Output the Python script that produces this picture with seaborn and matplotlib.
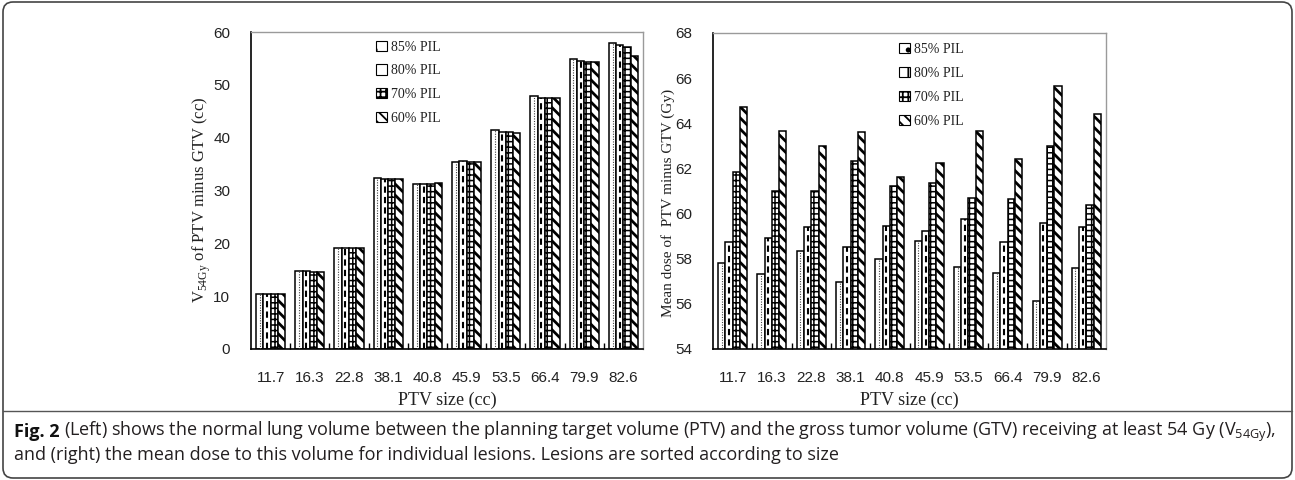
import numpy as np
import pandas as pd
import matplotlib
matplotlib.use("Agg")
import matplotlib.pyplot as plt
import matplotlib.patches as mpatches
from matplotlib.patches import FancyBboxPatch
from matplotlib.lines import Line2D
import seaborn as sns

# ---------------- data ----------------
ptv_sizes = ["11.7", "16.3", "22.8", "38.1", "40.8", "45.9", "53.5", "66.4", "79.9", "82.6"]
pil_levels = ["85% PIL", "80% PIL", "70% PIL", "60% PIL"]

# V54Gy of PTV minus GTV (cc)
v54_85 = [10.4, 14.7, 19.2, 32.3, 31.3, 35.3, 41.4, 47.9, 54.8, 58.0]
v54_80 = [10.4, 14.7, 19.2, 32.1, 31.3, 35.5, 41.0, 47.5, 54.6, 57.6]
v54_70 = [10.4, 14.5, 19.2, 32.1, 31.3, 35.3, 41.0, 47.5, 54.4, 57.1]
v54_60 = [10.4, 14.5, 19.2, 32.1, 31.5, 35.3, 40.8, 47.5, 54.4, 55.4]

# Mean dose of PTV minus GTV (Gy)
dose_85 = [57.80, 57.31, 58.35, 56.95, 57.98, 58.79, 57.65, 57.35, 56.11, 57.59]
dose_80 = [58.75, 58.90, 59.40, 58.54, 59.43, 59.24, 59.76, 58.75, 59.58, 59.40]
dose_70 = [61.83, 60.99, 60.99, 62.35, 61.20, 61.34, 60.69, 60.65, 62.99, 60.39]
dose_60 = [64.73, 63.67, 62.98, 63.61, 61.64, 62.25, 63.64, 62.40, 65.65, 64.43]

left_yticks = [0, 10, 20, 30, 40, 50, 60]
right_yticks = [54, 56, 58, 60, 62, 64, 66, 68]

caption_bold = "Fig. 2"
caption_line1 = (r"(Left) shows the normal lung volume between the planning target "
                 r"volume (PTV) and the gross tumor volume (GTV) receiving at least 54 Gy (V$_{\mathregular{54Gy}}$),")
caption_line2 = ("and (right) the mean dose to this volume for individual lesions. "
                 "Lesions are sorted according to size")


def long_df(series):
    rows = []
    for lvl, vals in zip(pil_levels, series):
        for s, v in zip(ptv_sizes, vals):
            rows.append((s, lvl, v))
    return pd.DataFrame(rows, columns=["size", "pil", "value"])


df_left = long_df([v54_85, v54_80, v54_70, v54_60])
df_right = long_df([dose_85, dose_80, dose_70, dose_60])

# ---------------- style ----------------
sns.set_theme(style="white")
plt.rcParams["font.family"] = ["Liberation Serif", "DejaVu Serif"]
plt.rcParams["hatch.linewidth"] = 1.3

W, H = 1295, 480
fig = plt.figure(figsize=(W / 100, H / 100), dpi=100)
fig.patch.set_facecolor("white")

ax1 = fig.add_axes([251 / W, 131 / H, 392 / W, 317 / H])
ax2 = fig.add_axes([713 / W, 131 / H, 393 / W, 316 / H])

hatch_map = {"85% PIL": None, "80% PIL": None, "70% PIL": "+++", "60% PIL": "\\\\\\"}
center_style = {
    "85% PIL": dict(linestyles=[(0, (1, 1.3))], linewidths=0.8, colors="#444444"),
    "80% PIL": dict(linestyles=[(0, (3, 2))], linewidths=1.5, colors="black"),
}
legend_hatch = {"85% PIL": ".", "80% PIL": "|", "70% PIL": "+++", "60% PIL": "\\\\\\"}
TXT = "#222222"


def draw(ax, df, ylim, yticks, ylabel, ylabel_size, ylabel_xy, legend_anchor):
    sns.barplot(data=df, x="size", y="value", hue="pil", order=ptv_sizes,
                hue_order=pil_levels, palette=["white"] * 4, saturation=1,
                edgecolor="black", linewidth=1.1, width=0.74, errorbar=None,
                legend=False, ax=ax)
    for lvl, cont in zip(pil_levels, ax.containers):
        for p in cont.patches:
            if hatch_map[lvl]:
                p.set_hatch(hatch_map[lvl])
                if hasattr(p, "set_hatch_linewidth"):
                    p.set_hatch_linewidth(2.0 if lvl == "60% PIL" else 1.1)
        if lvl in center_style:
            xs = [p.get_x() + p.get_width() / 2 for p in cont.patches]
            bots = [p.get_y() for p in cont.patches]
            tops = [p.get_y() + p.get_height() for p in cont.patches]
            ax.vlines(xs, bots, tops, zorder=3, **center_style[lvl])

    ax.set_xlim(-0.5, len(ptv_sizes) - 0.5)
    ax.set_ylim(*ylim)
    ax.set_yticks(yticks)
    ax.set_yticklabels([str(t) for t in yticks])
    ax.set_xticks(np.arange(0.5, len(ptv_sizes) - 0.5, 1), minor=True)

    ax.tick_params(axis="y", which="both", left=False, length=0, pad=15,
                   labelsize=11, labelcolor=TXT, labelfontfamily="Liberation Sans")
    ax.tick_params(axis="x", which="major", bottom=False, length=0, pad=16,
                   labelsize=11, labelcolor=TXT, labelfontfamily="Liberation Sans")
    ax.tick_params(axis="x", which="minor", bottom=True, direction="in",
                   length=4, width=1, color="black")

    for s in ["left", "bottom"]:
        ax.spines[s].set_color("black")
        ax.spines[s].set_linewidth(1.2)
    for s in ["top", "right"]:
        ax.spines[s].set_color("#9a9a9a")
        ax.spines[s].set_linewidth(1.0)

    ax.set_xlabel("PTV size (cc)", fontsize=13, color=TXT)
    ax.xaxis.set_label_coords(0.5, -0.161)
    ax.xaxis.label.set_va("center")
    ax.set_ylabel(ylabel, fontsize=ylabel_size, color=TXT)
    ax.yaxis.set_label_coords(*ylabel_xy)
    ax.yaxis.label.set_va("center")

    handles = [mpatches.Patch(facecolor="white", edgecolor="black", linewidth=0.8,
                              hatch=legend_hatch[l], label=l) for l in pil_levels]
    leg = ax.legend(handles=handles, loc="upper left", bbox_to_anchor=legend_anchor,
                    frameon=False, fontsize=10, handlelength=0.75, handleheight=0.75,
                    handletextpad=0.3, labelspacing=0.78, borderpad=0, borderaxespad=0)
    for t in leg.get_texts():
        t.set_color(TXT)


draw(ax1, df_left, (0, 60), left_yticks,
     r"V$_{\mathregular{54Gy}}$ of PTV minus GTV (cc)", 12, (-0.125, 0.47), (0.32, 0.973))
draw(ax2, df_right, (54, 68), right_yticks,
     "Mean dose of  PTV minus GTV (Gy)", 11, (-0.1145, 0.462), (0.474, 0.968))

# ---------------- caption & frame ----------------
CAP_FS = 13
tb = fig.text(14 / W, 1 - 432 / H, caption_bold, fontfamily="Open Sans", fontsize=CAP_FS,
              fontweight="bold", color="#111111", ha="left", va="center")
fig.canvas.draw()
bb = tb.get_window_extent(renderer=fig.canvas.get_renderer())
space_px = CAP_FS * 100 / 72 * 0.27
fig.text((bb.x1 + space_px) / W, 1 - 432 / H, caption_line1, fontfamily="Open Sans",
         fontsize=CAP_FS, color="#231f20", ha="left", va="center")
fig.text(14 / W, 1 - 455 / H, caption_line2, fontfamily="Open Sans", fontsize=CAP_FS,
         color="#231f20", ha="left", va="center")

fig.add_artist(Line2D([3 / W, 1292 / W], [1 - 411 / H, 1 - 411 / H],
                      transform=fig.transFigure, color="#555555", lw=1.0))
frame = FancyBboxPatch((0.03, 0.02), (W - 6) / 100, (H - 4) / 100,
                       boxstyle="round,pad=0,rounding_size=0.1",
                       transform=fig.dpi_scale_trans, facecolor="none",
                       edgecolor="#444444", lw=1.2)
fig.add_artist(frame)

fig.savefig("out.png", dpi=100, facecolor="white")
